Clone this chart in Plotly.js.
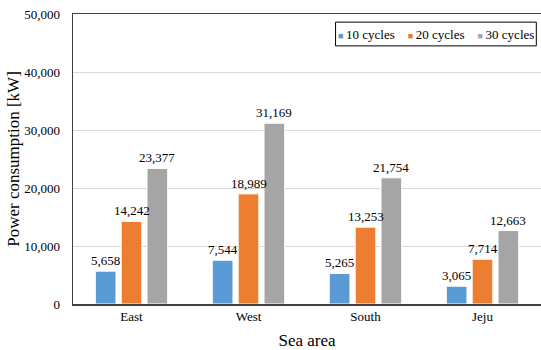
<!DOCTYPE html>
<html><head><meta charset="utf-8">
<script src="https://cdn.plot.ly/plotly-3.0.1.min.js"></script>
<style>body{margin:0;padding:0;background:#fff}#chart{width:541px;height:350px}</style>
</head><body><div id="chart"></div>
<script>
const categories = ["East", "West", "South", "Jeju"];
const seriesNames = ["10 cycles", "20 cycles", "30 cycles"];
const cycles10 = [5658, 7544, 5265, 3065];
const cycles20 = [14242, 18989, 13253, 7714];
const cycles30 = [23377, 31169, 21754, 12663];
const yTickVals = [0, 10000, 20000, 30000, 40000, 50000];
const yTickText = ["0", "10,000", "20,000", "30,000", "40,000", "50,000"];

const colors = ["#5B9BD5", "#ED7D31", "#A5A5A5"];
const font = "Liberation Serif, Times New Roman, serif";
const bargap = 0.337;
const allSeries = [cycles10, cycles20, cycles30];
const traces = allSeries.map((vals, i) => ({
  type: "bar",
  name: seriesNames[i],
  x: categories,
  y: vals,
  marker: {color: colors[i], line: {color: "#ffffff", width: 1}},
  textposition: "none",
  hoverinfo: "none"
}));

// data labels drawn above all bars, placed at each bar's group slot
const slot = (1 - bargap) / allSeries.length;
const labelAnnotations = [];
allSeries.forEach((vals, i) => {
  const off = (i - (allSeries.length - 1) / 2) * slot;
  vals.forEach((v, j) => {
    labelAnnotations.push({
      xref: "x", yref: "y", x: j + off, y: v, xanchor: "center", yanchor: "bottom",
      yshift: 1, showarrow: false, text: v.toLocaleString("en-US"),
      font: {family: font, size: 13, color: "#000"}
    });
  });
});

const legendText = seriesNames.map((n, i) =>
  "<span style='color:" + colors[i] + ";font-size:9px'>■</span>\u2009" + n).join("\u00a0\u00a0\u00a0\u00a0");

const layout = {
  width: 541, height: 350,
  margin: {l: 73, r: 0, t: 14, b: 46},
  paper_bgcolor: "#fff", plot_bgcolor: "#fff",
  barmode: "group", bargap: bargap, bargroupgap: 0.2,
  font: {family: font, size: 13, color: "#000"},
  showlegend: false,
  shapes: [{type: "rect", xref: "paper", yref: "paper", x0: 0.561, x1: 0.990, y0: 0.890, y1: 0.972,
            line: {color: "#000", width: 1}, fillcolor: "#fff", layer: "above"}],
  annotations: labelAnnotations.concat([{xref: "paper", yref: "paper", x: 0.776, y: 0.931, xanchor: "center", yanchor: "middle",
                 text: legendText, showarrow: false, font: {family: font, size: 13, color: "#000"}}]),
  xaxis: {
    showline: true, linecolor: "#404040", linewidth: 1.5, mirror: true,
    ticks: "", tickfont: {family: font, size: 13, color: "#000"},
    title: {text: "Sea area", font: {family: font, size: 17, color: "#000"}, standoff: 12}
  },
  yaxis: {
    range: [0, 50000], tickvals: yTickVals, ticktext: yTickText,
    showline: true, linecolor: "#404040", linewidth: 1.5, mirror: false,
    showgrid: true, gridcolor: "#d9d9d9", zeroline: false, ticks: "",
    ticklabelstandoff: 9,
    tickfont: {family: font, size: 13, color: "#000"},
    title: {text: "Power consumption [kW]", font: {family: font, size: 17, color: "#000"}, standoff: 0}
  }
};
Plotly.newPlot("chart", traces, layout, {staticPlot: true, displayModeBar: false});
</script></body></html>
